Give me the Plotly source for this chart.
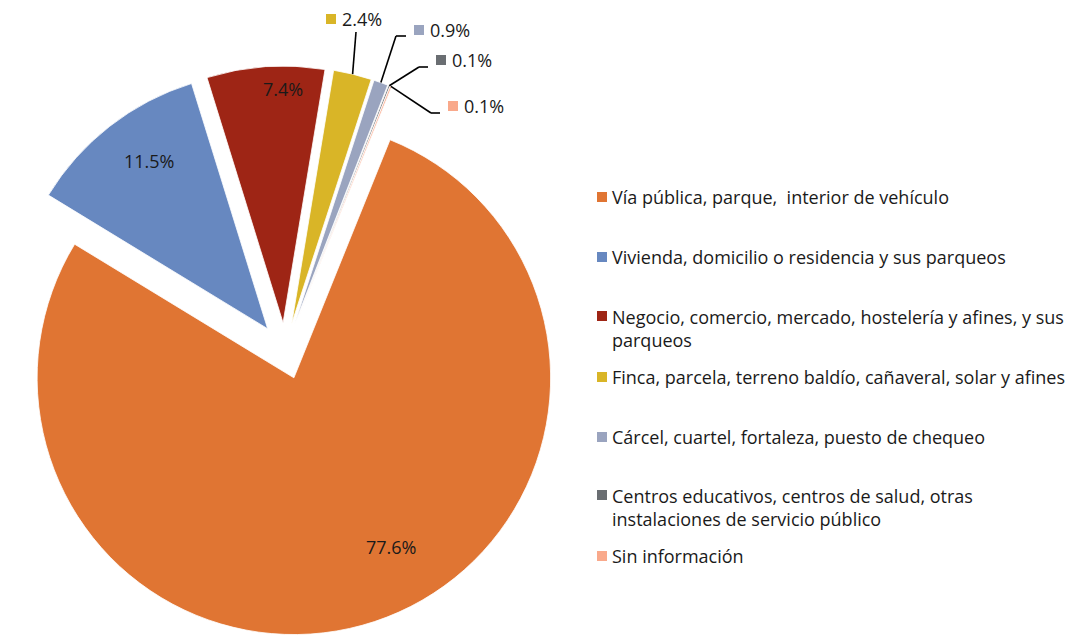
import math
import plotly.graph_objects as go

# data
categories = [
    "Vía pública, parque,  interior de vehículo",
    "Vivienda, domicilio o residencia y sus parqueos",
    "Negocio, comercio, mercado, hostelería y afines, y sus<br>parqueos",
    "Finca, parcela, terreno baldío, cañaveral, solar y afines",
    "Cárcel, cuartel, fortaleza, puesto de chequeo",
    "Centros educativos, centros de salud, otras<br>instalaciones de servicio público",
    "Sin información",
]
shares = [77.6, 11.5, 7.4, 2.4, 0.9, 0.1, 0.1]
colors = ["#E07533", "#6788C0", "#9E2515", "#D9B527", "#9AA4BF", "#6A6E72", "#F9A98B"]

FIG_W, FIG_H = 1081, 636
FONT = "Open Sans"
PULL = 0.11
ROT = 22
BOX = 570  # square pie box in px

cx = BOX / 2
cy = FIG_H - BOX / 2
r = BOX / 2 / (1 + PULL)

# reference pie centre used for the label layout below (px)
ref_c = (264, 352)
dx, dy = cx - ref_c[0], cy - ref_c[1]


def px(x, y):
    return x / FIG_W, 1 - y / FIG_H


def direction(a):
    t = math.radians(a)
    return math.sin(t), -math.cos(t)


total = sum(shares)
mids = []
acc = 0
for v in shares:
    mids.append(ROT + 360 * (acc + v / 2) / total)
    acc += v


def apex(i):
    ux, uy = direction(mids[i])
    return cx + PULL * r * ux, cy + PULL * r * uy


fig = go.Figure(go.Pie(
    labels=[c.replace("<br>", " ") for c in categories],
    values=shares,
    sort=False,
    direction="clockwise",
    rotation=ROT,
    pull=PULL,
    marker=dict(colors=colors, line=dict(color="white", width=0.8)),
    textinfo="none",
    hoverinfo="label+percent",
    showlegend=False,
    domain=dict(x=[0, BOX / FIG_W], y=[0, BOX / FIG_H]),
))

annotations = []
shapes = []
LBL_FS = 18

# labels inside the three big slices: (angle offset from mid, fraction of radius)
inside_pos = {0: (-11.5, 0.76), 1: (2.5, 0.80), 2: (4.0, 0.91)}
for i, (da, f) in inside_pos.items():
    ax, ay = apex(i)
    ux, uy = direction(mids[i] + da)
    x, y = px(ax + f * r * ux, ay + f * r * uy)
    annotations.append(dict(x=x, y=y, xref="paper", yref="paper", showarrow=False,
                            xanchor="center", yanchor="middle",
                            text=f"{shares[i]:.1f}%",
                            font=dict(family=FONT, size=LBL_FS, color="#1a1a1a")))

# outside labels with leader lines: elbow, end, key centre (ref px)
outside_pos = {
    3: ((335, 33), (335, 33), (310, 20)),
    4: ((375, 37), (385, 37), (398, 31)),
    5: ((398, 68), (407, 68), (420, 61)),
    6: ((410, 114), (419, 114), (432, 107)),
}
for i, (elbow, end, key) in outside_pos.items():
    ax, ay = apex(i)
    ux, uy = direction(mids[i])
    sx, sy = ax + r * ux, ay + r * uy
    ex, ey = elbow[0] + dx, elbow[1] + dy
    fx, fy = end[0] + dx, end[1] + dy
    kx, ky = key[0] + dx, key[1] + dy
    for (x0, y0), (x1, y1) in [((sx, sy), (ex, ey)), ((ex, ey), (fx, fy))]:
        if (x0, y0) == (x1, y1):
            continue
        p0, p1 = px(x0, y0), px(x1, y1)
        shapes.append(dict(type="line", xref="paper", yref="paper",
                           x0=p0[0], y0=p0[1], x1=p1[0], y1=p1[1],
                           line=dict(color="black", width=1.6)))
    a, b = px(kx - 5, ky - 5)
    c, d = px(kx + 5, ky + 5)
    shapes.append(dict(type="rect", xref="paper", yref="paper", x0=a, y0=b, x1=c, y1=d,
                       fillcolor=colors[i], line=dict(width=0)))
    tx, ty = px(kx + 9, ky)
    annotations.append(dict(x=tx, y=ty, xref="paper", yref="paper", showarrow=False,
                            xanchor="left", yanchor="middle", text=f"{shares[i]:.1f}%",
                            font=dict(family=FONT, size=LBL_FS, color="#1a1a1a")))

# legend drawn by hand so rows keep Excel's even spacing
legend_y = [197, 257, 316, 377, 437, 495, 556]
LEG_FS = 18
line_h = 24
for i, name in enumerate(categories):
    y = legend_y[i]
    a, b = px(597, y - 5)
    c, d = px(607, y + 5)
    shapes.append(dict(type="rect", xref="paper", yref="paper", x0=a, y0=b, x1=c, y1=d,
                       fillcolor=colors[i], line=dict(width=0)))
    n = name.count("<br>") + 1
    tx, ty = px(610, y + (n - 1) * line_h / 2)
    annotations.append(dict(x=tx, y=ty, xref="paper", yref="paper", showarrow=False,
                            xanchor="left", yanchor="middle", align="left", text=name,
                            font=dict(family=FONT, size=LEG_FS, color="#1a1a1a")))

fig.update_layout(
    width=FIG_W, height=FIG_H,
    margin=dict(l=0, r=0, t=0, b=0),
    paper_bgcolor="white", plot_bgcolor="white",
    annotations=annotations, shapes=shapes,
    font=dict(family=FONT),
)

# drop the browser's default body margin so the figure sits at the page corner
fig.write_html("out.html", config={"displayModeBar": False},
               post_script="document.body.style.margin='0';")
